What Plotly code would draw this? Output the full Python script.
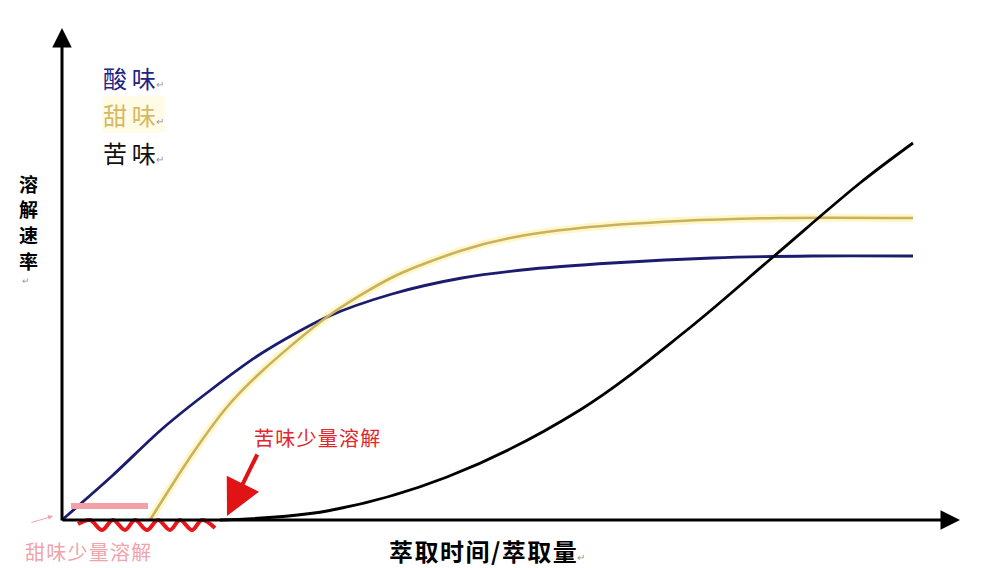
import plotly.graph_objects as go

# curve readings, x = extraction time, y = dissolution rate (arbitrary units)
sour_x = [0, 50, 100, 150, 200, 265, 330, 400, 470, 550, 650, 750, 851]
sour_y = [0, 44, 91, 131, 167, 203, 226, 242, 251, 257, 262, 264, 264]

sweet_x = [88, 131, 165, 198, 265, 331, 398, 448, 518, 618, 718, 851]
sweet_y = [0, 67, 113, 147, 203, 243, 269, 282, 292, 299, 302, 302]

bitter_x = [158, 265, 385, 518, 625, 711, 798, 851]
bitter_y = [0, 9, 43, 110, 190, 263, 337, 377]

# squiggle under the x axis
wave_x = [16, 28, 40, 51, 63, 73, 85, 96, 108, 118, 130, 140, 153]
wave_y = [-4, 0, -10, 0, -10, 0, -10, 0, -10, 0, -10, 0, -8]

# pink mark above the axis
pink_x = [9, 86]
pink_y = [14, 14]

names = ["酸味", "甜味", "苦味"]
colors = ["#1c1c6e", "#c9b062", "#000000"]
label_colors = ["#232380", "#d6b964", "#111111"]
y_title = ["溶", "解", "速", "率"]

FONT = "Noto Sans CJK SC"
HS = "\u200a"  # hair space, to widen the glyph pitch a bit


def spaced(s, sep=HS):
    return sep.join(list(s))


fig = go.Figure()

# soft yellow glow under the sweet curve
fig.add_trace(go.Scatter(x=sweet_x, y=sweet_y, mode="lines",
                         line=dict(color="rgba(255,240,150,0.55)", width=8, shape="spline", smoothing=0.8),
                         hoverinfo="skip"))
fig.add_trace(go.Scatter(x=sour_x, y=sour_y, mode="lines", name=names[0],
                         line=dict(color=colors[0], width=2.8, shape="spline", smoothing=0.8)))
fig.add_trace(go.Scatter(x=sweet_x, y=sweet_y, mode="lines", name=names[1],
                         line=dict(color=colors[1], width=2.6, shape="spline", smoothing=0.8)))
fig.add_trace(go.Scatter(x=bitter_x, y=bitter_y, mode="lines", name=names[2],
                         line=dict(color=colors[2], width=2.8, shape="spline", smoothing=1)))
fig.add_trace(go.Scatter(x=pink_x, y=pink_y, mode="lines",
                         line=dict(color="#f2a2a6", width=6), hoverinfo="skip"))
fig.add_trace(go.Scatter(x=wave_x, y=wave_y, mode="lines",
                         line=dict(color="#e8171c", width=4, shape="spline"), hoverinfo="skip"))

ret = '<span style="font-size:10px;color:#999999">↵</span>'
ann = []
# axes with arrow heads
ann.append(dict(x=898, y=0, ax=-1, ay=0, xref="x", yref="y", axref="x", ayref="y",
                text="", showarrow=True, arrowhead=2, arrowsize=1.3, arrowwidth=3, arrowcolor="#000"))
ann.append(dict(x=0, y=492, ax=0, ay=-2, xref="x", yref="y", axref="x", ayref="y",
                text="", showarrow=True, arrowhead=2, arrowsize=1.3, arrowwidth=3, arrowcolor="#000"))
# legend-like labels
for i, (n, c) in enumerate(zip(names, label_colors)):
    bg = "rgba(255,247,205,0.55)" if i == 1 else None
    ann.append(dict(x=40, y=443 - i * 37.5, xref="x", yref="y", xanchor="left", yanchor="middle",
                    text=spaced(n, "\u2009") + ret, showarrow=False, bgcolor=bg, borderpad=0,
                    font=dict(family=FONT, size=24, color=c)))
# y axis title, one glyph per row
for i, ch in enumerate(y_title):
    ann.append(dict(x=-34, y=337 - i * 25.7, xref="x", yref="y", xanchor="center", yanchor="middle",
                    text="<b>" + ch + "</b>", showarrow=False,
                    font=dict(family=FONT, size=19, color="#000")))
ann.append(dict(x=-36, y=240, xref="x", yref="y", xanchor="center", yanchor="middle",
                text="↵", showarrow=False, font=dict(family=FONT, size=9, color="#999")))
# x axis title
xt = spaced("萃取时间") + HS + "/" + HS + spaced("萃取量")
ann.append(dict(x=325, y=-30, xref="x", yref="y", xanchor="left", yanchor="middle",
                text="<b>" + xt + "</b>" + ret, showarrow=False,
                font=dict(family=FONT, size=24, color="#000")))
# bitter note + red arrow
ann.append(dict(x=190, y=83, xref="x", yref="y", xanchor="left", yanchor="middle",
                text=spaced("苦味少量溶解"), showarrow=False,
                font=dict(family=FONT, size=20, color="#e3262b")))
ann.append(dict(x=165, y=4, ax=196, ay=67, xref="x", yref="y", axref="x", ayref="y",
                text="", showarrow=True, arrowhead=2, arrowsize=1.8, arrowwidth=4, arrowcolor="#e01414"))
# sweet note + small pink arrow
ann.append(dict(x=-39, y=-31, xref="x", yref="y", xanchor="left", yanchor="middle",
                text=spaced("甜味少量溶解"), showarrow=False,
                font=dict(family=FONT, size=20, color="#f0a3aa")))
ann.append(dict(x=-9, y=4, ax=-32, ay=-3, xref="x", yref="y", axref="x", ayref="y",
                text="", showarrow=True, arrowhead=2, arrowsize=1, arrowwidth=1, arrowcolor="#f0a3aa"))

# ranges chosen so that data (0, 0) lands on the origin of the sketch,
# allowing for the 8px page margin around the plot div
fig.update_layout(
    width=1000, height=568,
    margin=dict(l=0, r=0, t=0, b=0),
    paper_bgcolor="white", plot_bgcolor="white",
    showlegend=False,
    xaxis=dict(range=[-54, 946], visible=False, fixedrange=True),
    yaxis=dict(range=[-56, 512], visible=False, fixedrange=True),
    annotations=ann,
)

fig.write_html("out.html")
